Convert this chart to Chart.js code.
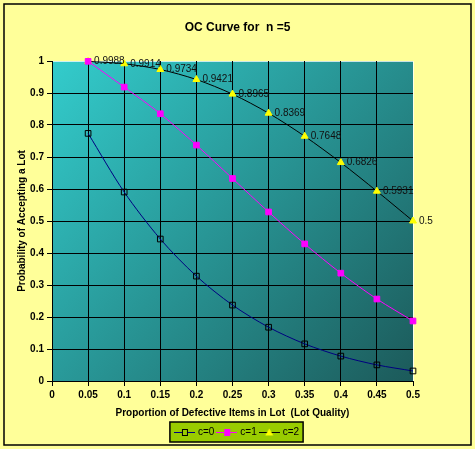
<!DOCTYPE html>
<html lang="en">
<head>
<meta charset="UTF-8">
<title>OC Curve for n =5</title>
<script src="https://cdn.jsdelivr.net/npm/chart.js@4.4.1/dist/chart.umd.min.js"></script>
<style>
  html, body { margin: 0; padding: 0; background: #fff; }
  canvas { display: block; }
</style>
</head>
<body>
<canvas id="chart" width="475" height="449"></canvas>
<script>
// values
const pValues = [0.05, 0.1, 0.15, 0.2, 0.25, 0.3, 0.35, 0.4, 0.45, 0.5];
const c0 = [0.7738, 0.5905, 0.4437, 0.3277, 0.2373, 0.1681, 0.1160, 0.0778, 0.0503, 0.0313];
const c1 = [0.999, 0.9185, 0.8352, 0.7373, 0.6328, 0.5282, 0.4284, 0.3370, 0.2562, 0.1875];
const c2 = [0.9988, 0.9914, 0.9734, 0.9421, 0.8965, 0.8369, 0.7648, 0.6826, 0.5931, 0.5];
const seriesNames = ['c=0', 'c=1', 'c=2'];
const xTickLabels = ['0', '0.05', '0.1', '0.15', '0.2', '0.25', '0.3', '0.35', '0.4', '0.45', '0.5'];
const yTickLabels = ['0', '0.1', '0.2', '0.3', '0.4', '0.5', '0.6', '0.7', '0.8', '0.9', '1'];

const FONT = '"Liberation Sans", Arial, sans-serif';
const legendBg = '#99CC00';

function toPoints(ys) {
    return ys.map((y, i) => ({ x: pValues[i], y: y }));
}

// little line+marker pictures for the legend
function legendIcon(lineColor, marker, fill, stroke) {
    const c = document.createElement('canvas');
    c.width = 21;
    c.height = 10;
    const g = c.getContext('2d');
    g.strokeStyle = lineColor;
    g.lineWidth = 1;
    g.beginPath();
    g.moveTo(0, 5.5);
    g.lineTo(21, 5.5);
    g.stroke();
    g.fillStyle = fill;
    g.strokeStyle = stroke;
    if (marker === 'square') {
        g.fillRect(8, 3, 6, 6);
        g.strokeRect(8.5, 2.5, 5, 6);
    } else {
        g.beginPath();
        g.moveTo(10.5, 1.5);
        g.lineTo(14.5, 8.5);
        g.lineTo(6.5, 8.5);
        g.closePath();
        g.fill();
    }
    return c;
}
const icons = [
    legendIcon('#000080', 'square', legendBg, '#000000'),
    legendIcon('#FF00FF', 'square', '#FF00FF', '#FF00FF'),
    legendIcon('#000000', 'triangle', '#FFFF00', '#FFFF00')
];

const backdrop = {
    id: 'backdrop',
    beforeDraw(chart) {
        const ctx = chart.ctx;
        const a = chart.chartArea;
        ctx.save();
        ctx.fillStyle = '#FFFF99';
        ctx.fillRect(0, 0, chart.width, chart.height);
        ctx.strokeStyle = '#000';
        ctx.lineWidth = 1.5;
        ctx.strokeRect(4, 4, 467, 441);

        const grad = ctx.createLinearGradient(a.left, a.top, a.right, a.bottom);
        grad.addColorStop(0, '#33CCCC');
        grad.addColorStop(1, '#1C5A5A');
        ctx.fillStyle = grad;
        ctx.fillRect(a.left, a.top, a.right - a.left, a.bottom - a.top);
        ctx.strokeStyle = 'rgba(255,255,255,0.75)';
        ctx.lineWidth = 1;
        ctx.beginPath();
        ctx.moveTo(a.left, a.top + 0.5);
        ctx.lineTo(a.right + 0.5, a.top + 0.5);
        ctx.lineTo(a.right + 0.5, a.bottom);
        ctx.stroke();

        // legend box
        const boxes = chart.legend.legendHitBoxes;
        if (boxes && boxes.length) {
            let l = Infinity, r = -Infinity, t = Infinity, b = -Infinity;
            boxes.forEach(h => {
                l = Math.min(l, h.left);
                r = Math.max(r, h.left + h.width);
                t = Math.min(t, h.top);
                b = Math.max(b, h.top + h.height);
            });
            l -= 6; r += 4; t -= 5; b += 5;
            ctx.fillStyle = legendBg;
            ctx.fillRect(l, t, r - l, b - t);
            ctx.strokeStyle = '#000';
            ctx.lineWidth = 1.5;
            ctx.strokeRect(l, t, r - l, b - t);
        }
        ctx.restore();
    }
};

const pointLabels = {
    id: 'pointLabels',
    afterDatasetsDraw(chart) {
        const ctx = chart.ctx;
        const meta = chart.getDatasetMeta(2);
        ctx.save();
        ctx.font = '10px ' + FONT;
        ctx.fillStyle = '#111';
        ctx.textAlign = 'left';
        ctx.textBaseline = 'middle';
        meta.data.forEach((pt, i) => {
            ctx.fillText(String(c2[i]), pt.x + 6, pt.y);
        });
        ctx.restore();
    }
};

const ctx = document.getElementById('chart').getContext('2d');
new Chart(ctx, {
    type: 'line',
    data: {
        datasets: [{
            label: seriesNames[0],
            data: toPoints(c0),
            borderColor: '#000080',
            borderWidth: 1,
            pointStyle: 'rect',
            pointRadius: 4,
            pointBorderColor: '#000000',
            pointBackgroundColor: 'rgba(0,0,0,0)',
            pointBorderWidth: 1,
            tension: 0.3,
            clip: false
        }, {
            label: seriesNames[1],
            data: toPoints(c1),
            borderColor: '#FF00FF',
            borderWidth: 1,
            pointStyle: 'rect',
            pointRadius: 4,
            pointBorderColor: '#FF00FF',
            pointBackgroundColor: '#FF00FF',
            pointBorderWidth: 1,
            tension: 0.3,
            clip: false
        }, {
            label: seriesNames[2],
            data: toPoints(c2),
            borderColor: '#000000',
            borderWidth: 1,
            pointStyle: 'triangle',
            pointRadius: 4,
            pointBorderColor: '#FFFF00',
            pointBackgroundColor: '#FFFF00',
            pointBorderWidth: 1,
            tension: 0.3,
            clip: false
        }]
    },
    options: {
        responsive: false,
        animation: false,
        devicePixelRatio: 1,
        layout: { padding: { top: 0, left: 0, right: 0, bottom: 2 } },
        plugins: {
            title: {
                display: true,
                text: 'OC Curve for  n =5',
                color: '#000',
                font: { family: FONT, size: 12, weight: 'bold' },
                padding: { top: 20, bottom: 26.6 }
            },
            legend: {
                position: 'bottom',
                labels: {
                    usePointStyle: true,
                    pointStyleWidth: 17,
                    padding: 4,
                    color: '#000',
                    font: { family: FONT, size: 10 },
                    generateLabels(chart) {
                        return Chart.defaults.plugins.legend.labels.generateLabels(chart)
                            .map((item, i) => Object.assign(item, { pointStyle: icons[i] }));
                    }
                }
            },
            tooltip: { enabled: false }
        },
        scales: {
            x: {
                type: 'linear',
                min: 0,
                max: 0.5,
                afterFit(scale) { scale.height = 42; },
                afterBuildTicks(scale) {
                    scale.ticks = xTickLabels.map(t => ({ value: parseFloat(t) }));
                },
                ticks: {
                    color: '#000',
                    font: { family: FONT, size: 10, weight: 'bold' },
                    padding: 3,
                    maxRotation: 0,
                    autoSkip: false,
                    callback: (v, i) => xTickLabels[i]
                },
                grid: {
                    color: c => c.index === xTickLabels.length - 1 ? 'rgba(0,0,0,0)' : '#000',
                    tickColor: '#000',
                    tickLength: 5,
                    lineWidth: 1
                },
                border: { color: '#000', width: 1 },
                title: {
                    display: true,
                    text: 'Proportion of Defective Items in Lot  (Lot Quality)',
                    color: '#000',
                    font: { family: FONT, size: 10, weight: 'bold' },
                    padding: { top: 4, bottom: 4 }
                }
            },
            y: {
                min: 0,
                max: 1,
                afterFit(scale) { scale.width = 52; },
                afterBuildTicks(scale) {
                    scale.ticks = yTickLabels.map(t => ({ value: parseFloat(t) }));
                },
                ticks: {
                    color: '#000',
                    font: { family: FONT, size: 10, weight: 'bold' },
                    padding: 3,
                    callback: (v, i) => yTickLabels[i]
                },
                grid: {
                    color: c => c.index === yTickLabels.length - 1 ? 'rgba(0,0,0,0)' : '#000',
                    tickColor: '#000',
                    tickLength: 5,
                    lineWidth: 1
                },
                border: { color: '#000', width: 1 },
                title: {
                    display: true,
                    text: 'Probability of Accepting a Lot',
                    color: '#000',
                    font: { family: FONT, size: 10, weight: 'bold' },
                    padding: { top: 16, bottom: 4 }
                }
            },
            // empty right-hand strip so the plot ends where the reference's does
            yRight: {
                position: 'right',
                display: true,
                afterFit(scale) { scale.width = 62; },
                ticks: { display: false },
                grid: { display: false },
                border: { display: false }
            }
        }
    },
    plugins: [backdrop, pointLabels]
});
</script>
</body>
</html>
